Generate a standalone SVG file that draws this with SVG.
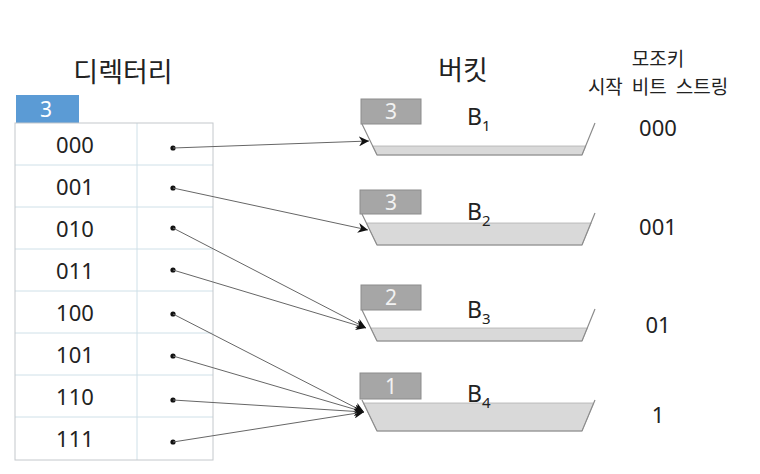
<svg xmlns="http://www.w3.org/2000/svg" width="760" height="474" viewBox="0 0 760 474">
<style>
text{font-family:"Noto Sans","Noto Sans CJK KR",sans-serif;fill:#222}
.title{font-size:27px}
.row{font-size:22px;text-anchor:middle}
.val{font-size:22px;text-anchor:middle}
.hdr{font-size:19px;text-anchor:middle;word-spacing:4px}
.lbl{fill:#a6a6a6;stroke:#8c8c8c;stroke-width:1}
.lbltxt{font-size:21px;fill:#f2f2f2;text-anchor:middle}
.bk{fill:none;stroke:#8c8c8c;stroke-width:1.2}
.fill{fill:#d9d9d9;stroke:#b0b0b0;stroke-width:0.8}
.b{font-size:23px}
.sub{font-size:15px}
.conn{stroke:#666;stroke-width:1;fill:none;marker-end:url(#ah)}
.dot{fill:#111}
.grid{stroke:#cfe0e8;stroke-width:1}
</style>
<defs>
<marker id="ah" viewBox="0 0 10 10" refX="10" refY="5" markerWidth="10" markerHeight="10" markerUnits="userSpaceOnUse" orient="auto">
<path d="M0,0 L10,5 L0,10 L3,5 Z" fill="#111"/>
</marker>
</defs>
<rect width="760" height="474" fill="#fff"/>
<text class="title" x="123" y="82" text-anchor="middle">디렉터리</text>
<text class="title" x="463" y="80" text-anchor="middle">버킷</text>
<text class="hdr" x="658" y="66">모조키</text>
<text class="hdr" x="658" y="94">시작 비트 스트링</text>

<g id="directory">
<rect x="16" y="95" width="63" height="28" fill="#5b9bd5"/>
<text x="46" y="117" font-size="21" text-anchor="middle" style="fill:#fff">3</text>
<g class="grid">
<line x1="15" y1="165" x2="213" y2="165"/>
<line x1="15" y1="207" x2="213" y2="207"/>
<line x1="15" y1="249" x2="213" y2="249"/>
<line x1="15" y1="291" x2="213" y2="291"/>
<line x1="15" y1="333" x2="213" y2="333"/>
<line x1="15" y1="375" x2="213" y2="375"/>
<line x1="15" y1="417" x2="213" y2="417"/>
<line x1="137" y1="123" x2="137" y2="460"/>
</g>
<rect x="15" y="123" width="198" height="337" fill="none" stroke="#c4c8cc" stroke-width="1"/>
<text class="row" x="75" y="153">000</text>
<text class="row" x="75" y="195">001</text>
<text class="row" x="75" y="237">010</text>
<text class="row" x="75" y="279">011</text>
<text class="row" x="75" y="321">100</text>
<text class="row" x="75" y="363">101</text>
<text class="row" x="75" y="405">110</text>
<text class="row" x="75" y="447">111</text>
<g class="dot">
<circle cx="173" cy="148" r="2.6"/>
<circle cx="173" cy="188" r="2.6"/>
<circle cx="173" cy="228" r="2.6"/>
<circle cx="173" cy="270" r="2.6"/>
<circle cx="173" cy="314" r="2.6"/>
<circle cx="173" cy="356" r="2.6"/>
<circle cx="173" cy="400" r="2.6"/>
<circle cx="173" cy="442" r="2.6"/>
</g>
</g>

<g id="bucket1">
<rect class="lbl" x="361" y="99" width="60" height="25"/>
<text class="lbltxt" x="391" y="119">3</text>
<polygon class="fill" points="372.6,146 585.8,146 582,155 377,155"/>
<polyline class="bk" points="362,124 377,155 582,155 595,123"/>
<text class="b" x="467" y="125">B<tspan class="sub" dy="6">1</tspan></text>
</g>
<g id="bucket2">
<rect class="lbl" x="360" y="190" width="61" height="24"/>
<text class="lbltxt" x="391" y="210">3</text>
<polygon class="fill" points="366.4,223 591.2,223 582,245 377,245"/>
<polyline class="bk" points="362,214 377,245 582,245 595,213"/>
<text class="b" x="467" y="220">B<tspan class="sub" dy="6">2</tspan></text>
</g>
<g id="bucket3">
<rect class="lbl" x="361" y="285" width="60" height="25"/>
<text class="lbltxt" x="391" y="305">2</text>
<polygon class="fill" points="370.7,328 587.4,328 582,341 377,341"/>
<polyline class="bk" points="362,310 377,341 582,341 595,309"/>
<text class="b" x="467" y="318">B<tspan class="sub" dy="6">3</tspan></text>
</g>
<g id="bucket4">
<rect class="lbl" x="360" y="373" width="61" height="26"/>
<text class="lbltxt" x="391" y="394">1</text>
<polygon class="fill" points="363.5,403 593.7,403 582,431 377,431"/>
<polyline class="bk" points="362,400 377,431 582,431 595,400"/>
<text class="b" x="467" y="402">B<tspan class="sub" dy="6">4</tspan></text>
</g>

<g id="keys">
<text class="val" x="658" y="136">000</text>
<text class="val" x="658" y="235">001</text>
<text class="val" x="658" y="333">01</text>
<text class="val" x="658" y="423">1</text>
</g>

<g id="connectors">
<line class="conn" x1="173" y1="148" x2="369" y2="141"/>
<line class="conn" x1="173" y1="188" x2="368" y2="230"/>
<line class="conn" x1="173" y1="228" x2="366" y2="328"/>
<line class="conn" x1="173" y1="270" x2="366" y2="328"/>
<line class="conn" x1="173" y1="314" x2="364" y2="412"/>
<line class="conn" x1="173" y1="356" x2="364" y2="412"/>
<line class="conn" x1="173" y1="400" x2="364" y2="412"/>
<line class="conn" x1="173" y1="442" x2="364" y2="412"/>
</g>
</svg>
